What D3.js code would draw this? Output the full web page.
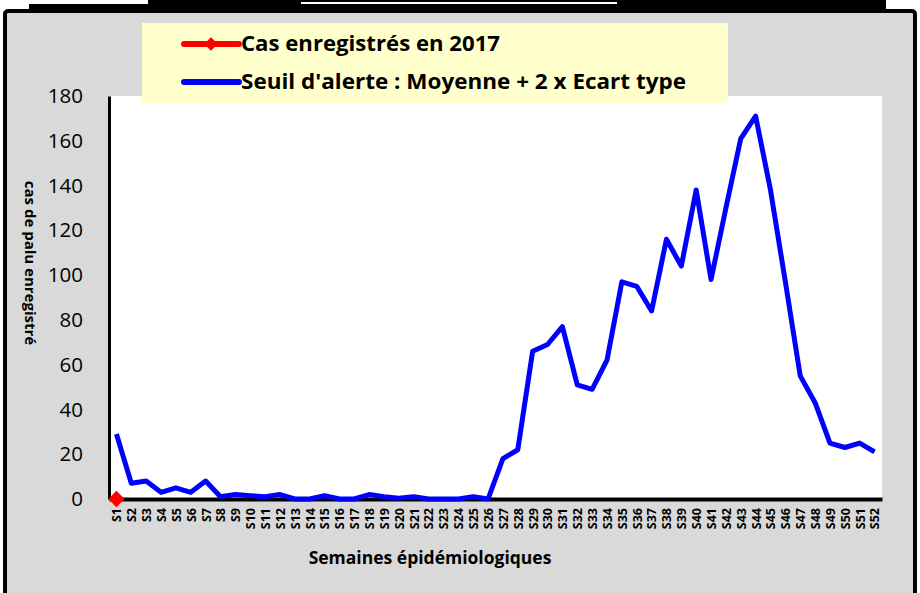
<!DOCTYPE html>
<html>
<head>
<meta charset="utf-8">
<script src="https://cdn.jsdelivr.net/npm/d3@7"></script>
<style>
  body { margin: 0; background: #fff; }
  text { font-family: "Open Sans", sans-serif; }
</style>
</head>
<body>
<div id="chart"></div>
<script>
// data
var weeks = d3.range(1, 53).map(function(i) { return "S" + i; });
var seuil = [29, 7, 8, 3, 5, 3, 8, 1, 2, 1.5, 1, 2, 0, 0, 1.5, 0, 0, 2, 1, 0.3,
  1, 0, 0, 0, 1, 0, 18, 22, 66, 69, 77, 51, 49, 62, 97, 95, 84, 116, 104, 138,
  98, 130, 161, 171, 138, 97, 55, 43, 25, 23, 25, 21];
var cas2017 = [0];
var yTicks = [0, 20, 40, 60, 80, 100, 120, 140, 160, 180];
var legendLabels = ["Cas enregistrés en 2017", "Seuil d'alerte : Moyenne + 2 x Ecart type"];

var svgWidth = 920;
var svgHeight = 593;
var plot = { left: 109, right: 882, top: 96, bottom: 499 };

var svg = d3.select("#chart")
  .append("svg")
  .attr("width", svgWidth)
  .attr("height", svgHeight);

svg.append("rect").attr("width", svgWidth).attr("height", svgHeight).attr("fill", "#fff");

// title box, cut off at the top of the picture
svg.append("rect").attr("x", 29).attr("y", 0).attr("width", 857).attr("height", 13).attr("fill", "#000");
svg.append("rect").attr("x", 0).attr("y", 0).attr("width", 148).attr("height", 4).attr("fill", "#fff");
svg.append("rect").attr("x", 301).attr("y", 2).attr("width", 316).attr("height", 2).attr("fill", "#fff");

// outer frame
svg.append("rect")
  .attr("x", 5).attr("y", 11)
  .attr("width", 910).attr("height", 600)
  .attr("rx", 3)
  .attr("fill", "#d9d9d9")
  .attr("stroke", "#000")
  .attr("stroke-width", 4);

// plot area
svg.append("rect")
  .attr("x", plot.left).attr("y", plot.top)
  .attr("width", plot.right - plot.left).attr("height", plot.bottom - plot.top)
  .attr("fill", "#fff");

var xScale = d3.scalePoint().domain(weeks).range([plot.left, plot.right]).padding(0.5);
var yScale = d3.scaleLinear().domain([0, 180]).range([plot.bottom, plot.top]);

// y axis
var leftAxis = d3.axisLeft(yScale).tickValues(yTicks).tickSize(0).tickPadding(26);
var yAxis = svg.append("g").attr("transform", "translate(" + plot.left + ",0)").call(leftAxis);
yAxis.select(".domain").attr("stroke", "#000").attr("stroke-width", 3);
yAxis.selectAll("text").style("font-size", "20.5px").style("font-family", "Open Sans").attr("fill", "#000");

// x axis
var bottomAxis = d3.axisBottom(xScale).tickSize(0);
var xAxis = svg.append("g").attr("transform", "translate(0," + plot.bottom + ")").call(bottomAxis);
xAxis.select(".domain").attr("stroke", "#000").attr("stroke-width", 4);
xAxis.selectAll("text")
  .attr("transform", "rotate(-90)")
  .attr("x", -9)
  .attr("y", 0)
  .attr("dy", "0.35em")
  .style("text-anchor", "end")
  .style("font-size", "12.5px")
  .style("font-weight", "bold")
  .style("font-family", "Open Sans")
  .attr("fill", "#000");

// seuil line
var line = d3.line()
  .x(function(d, i) { return xScale(weeks[i]); })
  .y(function(d) { return yScale(d); });

svg.append("path")
  .datum(seuil)
  .attr("d", line)
  .attr("fill", "none")
  .attr("stroke", "#0000ff")
  .attr("stroke-width", 5)
  .attr("stroke-linejoin", "round");

// 2017 cases
svg.append("path")
  .datum(cas2017)
  .attr("d", line)
  .attr("fill", "none")
  .attr("stroke", "#ff0000")
  .attr("stroke-width", 5);

svg.selectAll(".diamond")
  .data(cas2017)
  .enter()
  .append("path")
  .attr("class", "diamond")
  .attr("d", d3.symbol().type(d3.symbolDiamond2).size(170))
  .attr("transform", function(d, i) { return "translate(" + xScale(weeks[i]) + "," + yScale(d) + ")"; })
  .attr("fill", "#ff0000");

// axis titles
svg.append("text")
  .attr("transform", "translate(25,263) rotate(90)")
  .style("text-anchor", "middle")
  .style("font-size", "15px")
  .style("font-weight", "bold")
  .text("cas de palu enregistré");

svg.append("text")
  .attr("x", 430)
  .attr("y", 564)
  .style("text-anchor", "middle")
  .style("font-size", "17.5px")
  .style("font-weight", "bold")
  .text("Semaines épidémiologiques");

// legend
svg.append("rect")
  .attr("x", 142).attr("y", 23)
  .attr("width", 586).attr("height", 80)
  .attr("fill", "#ffffcc");

var legendColors = ["#ff0000", "#0000ff"];
var legendWidths = [259, 445];
var legend = svg.selectAll(".legend")
  .data(legendLabels)
  .enter()
  .append("g")
  .attr("class", "legend")
  .attr("transform", function(d, i) { return "translate(0," + (44 + i * 38) + ")"; });

legend.append("line")
  .attr("x1", 184).attr("x2", 239)
  .attr("stroke", function(d, i) { return legendColors[i]; })
  .attr("stroke-width", 6)
  .attr("stroke-linecap", "round");

legend.filter(function(d, i) { return i === 0; })
  .append("path")
  .attr("d", d3.symbol().type(d3.symbolDiamond2).size(120))
  .attr("transform", "translate(211,0)")
  .attr("fill", "#ff0000");

legend.append("text")
  .attr("x", 241)
  .attr("dy", "0.35em")
  .attr("textLength", function(d, i) { return legendWidths[i]; })
  .attr("lengthAdjust", "spacingAndGlyphs")
  .style("font-size", "21px")
  .style("font-weight", "bold")
  .text(function(d) { return d; });
</script>
</body>
</html>
